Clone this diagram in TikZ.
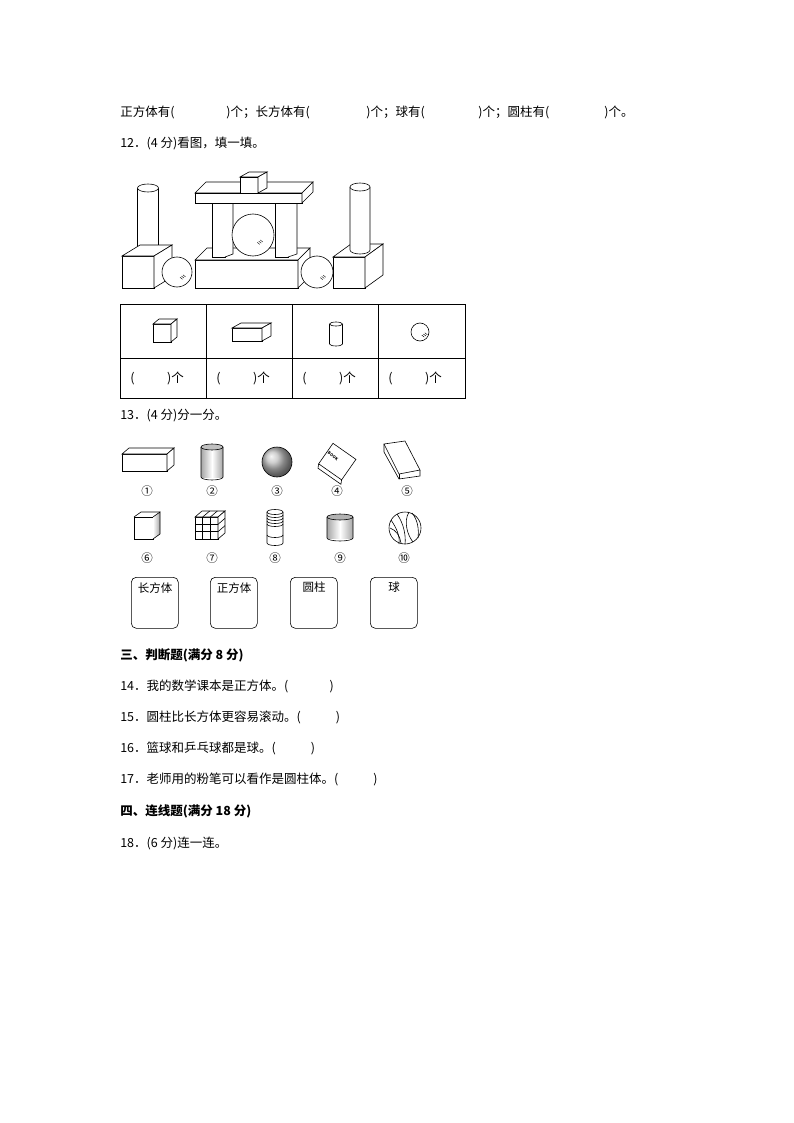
\documentclass[tikz,border=0pt]{standalone}
\usepackage{fontspec}
\setmainfont{Noto Sans CJK SC}
\usepackage{tikz}

% front face at (x,y), width, height, depth offset
\newcommand{\cuboid}[6]{%
  \draw[fill=white] (#1,#2) rectangle ({#1+#3},{#2+#4});
  \draw[fill=white] (#1,#2) -- ({#1+#5},{#2-#6}) -- ({#1+#3+#5},{#2-#6}) -- ({#1+#3},#2) -- cycle;
  \draw[fill=white] ({#1+#3},#2) -- ({#1+#3+#5},{#2-#6}) -- ({#1+#3+#5},{#2+#4-#6}) -- ({#1+#3},{#2+#4}) -- cycle;}
% center x, top, bottom, rx, ry
\newcommand{\cyl}[5]{%
  \draw[fill=white] ({#1-#4},#2) -- ({#1-#4},#3) arc[start angle=180,end angle=0,x radius=#4,y radius=#5] -- ({#1+#4},#2);
  \draw[fill=white] (#1,#2) ellipse[x radius=#4,y radius=#5];}
\newcommand{\ball}[3]{%
  \draw[fill=white] (#1,#2) circle[radius=#3];
  \foreach \k in {0,1,2}
    \draw[thin] ({#1+0.2*#3+1.5*\k},{#2+0.35*#3-1.2*\k}) -- ++(2.5,2);}

\tikzset{
  txt/.style={anchor=west,inner sep=0pt,font=\fontsize{12.5}{14}\selectfont},
  head/.style={txt,font=\fontsize{12.5}{14}\selectfont\bfseries},
  sortbox/.style={draw,rounded corners=5pt,minimum width=47pt,minimum height=51pt,anchor=north west,inner sep=0pt},
  num/.style={font=\fontsize{11.5}{13}\selectfont,inner sep=0pt}
}

\begin{document}
\begin{tikzpicture}[x=1pt,y=-1pt,line width=0.6pt]
\useasboundingbox (0,0) rectangle (794,1123);

% text lines
\node[txt] (l1a) at (120,112) {正方体有(};
\node[txt] (l1b) at (226,112) {)个；长方体有(};
\node[txt] (l1c) at (366,112) {)个；球有(};
\node[txt] (l1d) at (478,112) {)个；圆柱有(};
\node[txt] (l1e) at (604,112) {)个。};
\node[txt] (q12) at (120,143) {12．(4 分)看图，填一填。};

% building
\cyl{148}{188}{251}{10.5}{4}
\cuboid{122}{256}{32}{32}{18}{11}
\ball{177}{272}{15}
\cuboid{195}{260}{103}{28}{12}{12}
\ball{317}{272}{16}
\cuboid{333}{257}{32}{31}{18}{13}
\cyl{360}{187}{250}{10}{4}
\draw[fill=white] (212,203) rectangle (225,257);
\draw[fill=white] (225,203) -- (233,200) -- (233,254) -- (225,257);
\draw[fill=white] (275,203) rectangle (288,257);
\draw[fill=white] (288,203) -- (297,200) -- (297,254) -- (288,257);
\ball{253}{235}{21}
\cuboid{195}{193}{107}{10}{11}{11}
\cuboid{240}{177}{18}{16}{9}{5}

% table
\draw (120,304) rectangle (465,398);
\draw (120,358) -- (465,358);
\foreach \x in {206,292,378} \draw (\x,304) -- (\x,398);
\cuboid{153}{324}{18}{18}{6}{5}
\cuboid{232}{328}{30}{13}{9}{5}
\cyl{336}{324}{344}{6.5}{2}
\ball{420}{332}{9}
\foreach \x [count=\i] in {130,216,302,388}
  \node[txt] (p\i) at (\x,378) {(\hspace{2.6em})个};

% section 13
\node[txt] (q13) at (120,416) {13．(4 分)分一分。};
\cuboid{122}{454}{45}{17}{7}{6}
\shade[left color=gray!70,right color=gray!70,middle color=white] (201,447) rectangle (223,477);
\draw (201,447) -- (201,477) arc[start angle=180,end angle=0,x radius=11,y radius=3] -- (223,447);
\draw[fill=gray!50] (212,447) ellipse[x radius=11,y radius=3];
\shade[ball color=gray!50,draw] (277,462) circle[radius=15];
\draw[fill=white,rotate around={-35:(337,462)}] (323,449) rectangle (351,474);
\draw[rotate around={-35:(337,462)}] (323,474) -- (325,478) -- (353,478) -- (351,474);
\node[font=\fontsize{4}{4}\selectfont\bfseries,rotate=-35,inner sep=0pt] (bk) at (333,456) {BOOK};
\draw[fill=white] (384,444) -- (405,441) -- (420,470) -- (399,474) -- cycle;
\draw (384,444) -- (384,452) -- (399,479) -- (420,476) -- (420,470);
\draw (399,474) -- (399,479);
\foreach \n/\x/\y in {①/147/491,②/212/491,③/277/491,④/337/491,⑤/407/491,⑥/147/558,⑦/212/558,⑧/275/558,⑨/340/558,⑩/404/558}
  \node[num] at (\x,\y) {\n};
% row 2
\draw[fill=white] (134,517) rectangle (153,539);
\shade[left color=white,right color=gray!70] (153,517) -- (160,512) -- (160,534) -- (153,539) -- cycle;
\draw (153,517) -- (160,512) -- (160,534) -- (153,539);
\draw (134,517) -- (141,512) -- (160,512);
\cuboid{195}{517}{23}{22}{7}{6}
\foreach \t in {1,2} {
  \draw ({195+\t*23/3},517) -- ({195+\t*23/3},539);
  \draw (195,{517+\t*22/3}) -- (218,{517+\t*22/3});
  \draw ({195+\t*23/3},517) -- ({202+\t*23/3},511);
  \draw (218,{517+\t*22/3}) -- (225,{511+\t*22/3});}
\cyl{275}{512}{543}{8}{2.5}
\foreach \y in {515,518,521,524} \draw (267,\y) arc[start angle=180,end angle=0,x radius=8,y radius=2.5];
\draw (267,535) arc[start angle=180,end angle=0,x radius=8,y radius=2.5];
\shade[left color=gray!70,right color=gray!70,middle color=white] (327,517) rectangle (353,538);
\draw (327,517) -- (327,538) arc[start angle=180,end angle=0,x radius=13,y radius=3] -- (353,517);
\draw[fill=gray!60] (340,517) ellipse[x radius=13,y radius=3];
\draw (405,528) circle[radius=16];
\draw (391,520) .. controls (398,530) and (400,538) .. (399,544);
\draw (397,514) .. controls (404,524) and (406,536) .. (405,544);
\draw (409,512) .. controls (403,522) and (408,536) .. (413,542);
\draw (390,528) .. controls (396,530) and (400,536) .. (401,543);
\draw (412,513) .. controls (418,520) and (419,530) .. (418,538);

% sorting boxes
\foreach \x/\w in {131/a,210/b,290/c,370/d}
  \node[sortbox] (box\w) at (\x,577) {};
\node[num,anchor=north] at (155,582) {长方体};
\node[num,anchor=north] at (234,582) {正方体};
\node[num,anchor=north] at (314,582) {圆柱};
\node[num,anchor=north] at (394,582) {球};

% judging and linking
\node[head] (s3) at (120,655) {三、判断题(满分 8 分)};
\node[txt] (q14) at (120,686) {14．我的数学课本是正方体。(\hspace{3.3em})};
\node[txt] (q15) at (120,717) {15．圆柱比长方体更容易滚动。(\hspace{2.8em})};
\node[txt] (q16) at (120,748) {16．篮球和乒乓球都是球。(\hspace{2.8em})};
\node[txt] (q17) at (120,779) {17．老师用的粉笔可以看作是圆柱体。(\hspace{2.8em})};
\node[head] (s4) at (120,811) {四、连线题(满分 18 分)};
\node[txt] (q18) at (120,843) {18．(6 分)连一连。};
\end{tikzpicture}
\end{document}
